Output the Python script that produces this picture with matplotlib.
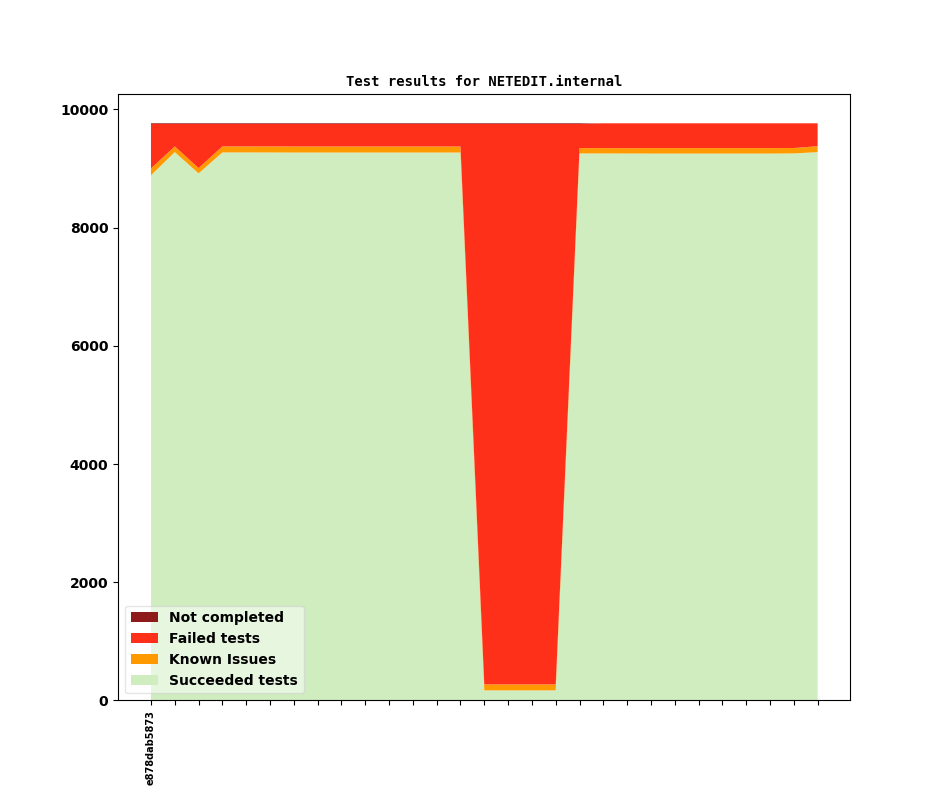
import numpy as np
import matplotlib
matplotlib.use("Agg")
import matplotlib.pyplot as plt

total = 9765
succeeded = [8885, 9278, 8918, 9272, 9272, 9271, 9270, 9270, 9270, 9270, 9270, 9270, 9270, 9270,
             170, 170, 170, 170,
             9255, 9255, 9254, 9253, 9253, 9253, 9253, 9253, 9253, 9255, 9277]
known = [117, 96, 89, 102, 102, 102, 102, 102, 102, 102, 102, 102, 102, 102,
         101, 101, 101, 101,
         90, 90, 90, 92, 92, 92, 92, 92, 92, 92, 100]
not_completed = [12] * 19 + [0] * 10
failed = [total - s - k - n for s, k, n in zip(succeeded, known, not_completed)]

commits = ["e878dab5873"] + [""] * 28

colors = ["#cfedbf", "#ff9900", "#ff3019", "#8e1a1a"]
labels = ["Succeeded tests", "Known Issues", "Failed tests", "Not completed"]

fig = plt.figure(figsize=(9.44, 7.87), dpi=100)
ax = fig.add_subplot(111)
x = np.arange(len(succeeded))
ax.stackplot(x, succeeded, known, failed, not_completed, colors=colors, labels=labels)
ax.set_xlim(-1.385, len(x) - 1 + 1.343)

ax.set_xticks(x)
ax.set_xticklabels(commits, rotation=90, fontsize=7, fontweight="bold")
for lbl in ax.get_yticklabels():
    lbl.set_fontweight("bold")
ax.set_title("Test results for NETEDIT.internal", family="monospace",
             fontweight="bold", fontsize=10)

handles, labs = ax.get_legend_handles_labels()
ax.legend(handles[::-1], labs[::-1], loc="lower left", framealpha=0.5,
          prop={"weight": "bold"})

fig.savefig("out.png", dpi=100)
